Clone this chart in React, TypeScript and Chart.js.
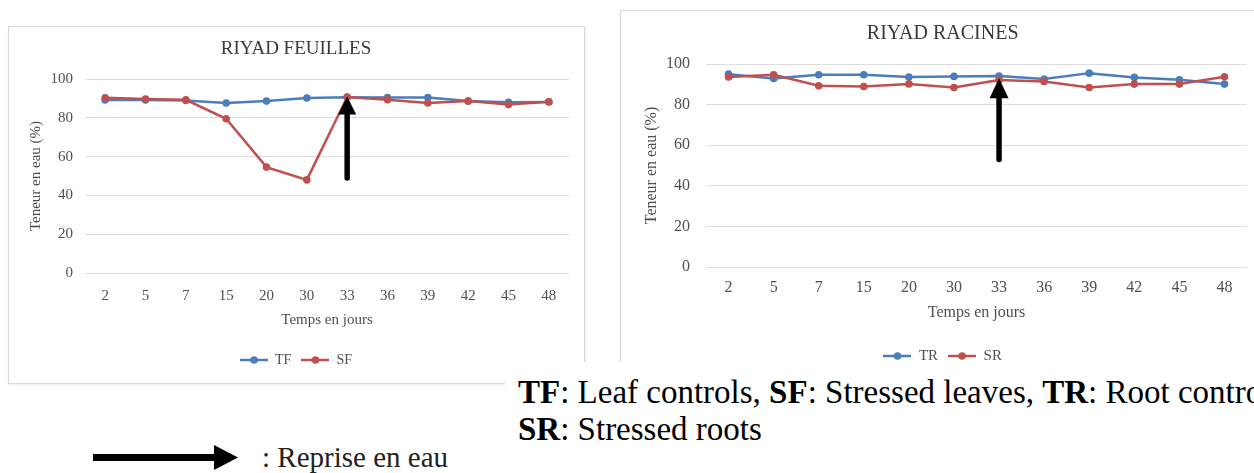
import React, { useEffect, useRef } from "react";
import { Chart, registerables } from "chart.js";

Chart.register(...registerables);

// ---------- data ----------
const DAYS = ["2", "5", "7", "15", "20", "30", "33", "36", "39", "42", "45", "48"];
const TF = [89.2, 89.2, 88.9, 87.6, 88.6, 90.2, 90.6, 90.4, 90.4, 88.6, 88.0, 88.2];
const SF = [90.3, 89.7, 89.3, 79.5, 54.6, 48.0, 90.7, 89.3, 87.6, 88.6, 86.8, 88.3];
const TR = [95.0, 92.9, 94.7, 94.7, 93.6, 93.9, 94.1, 92.6, 95.5, 93.4, 92.2, 90.1];
const SR = [93.6, 94.7, 89.3, 88.9, 90.2, 88.4, 92.1, 91.4, 88.4, 90.1, 90.1, 93.7];
const Y_TICKS = [0, 20, 40, 60, 80, 100];
const REWATER_DAY = "33";
const LEAF_ARROW = [49, 91];
const ROOT_ARROW = [53, 93];

const BLUE = "#4a7ebb";
const RED = "#c0504d";
const FONT = "'Liberation Serif', 'Times New Roman', serif";
const TEXT = "#4f4f4f";

function makeIcon(color: string) {
  const c = document.createElement("canvas");
  c.width = 28;
  c.height = 10;
  const g = c.getContext("2d")!;
  g.strokeStyle = color;
  g.lineWidth = 2.5;
  g.beginPath();
  g.moveTo(0, 5);
  g.lineTo(28, 5);
  g.stroke();
  g.fillStyle = color;
  g.beginPath();
  g.arc(14, 5, 3.8, 0, Math.PI * 2);
  g.fill();
  return c;
}

const arrowPlugin = {
  id: "rewater",
  afterDatasetsDraw(chart: any, _args: any, opts: any) {
    const { ctx, scales } = chart;
    const x = scales.x;
    const y = scales.y;
    const px = x.getPixelForValue(DAYS.indexOf(opts.day));
    const yTail = y.getPixelForValue(opts.from);
    const yTip = y.getPixelForValue(opts.to);
    ctx.save();
    ctx.fillStyle = "#000";
    ctx.strokeStyle = "#000";
    ctx.lineWidth = opts.shaft;
    ctx.lineCap = "round";
    ctx.beginPath();
    ctx.moveTo(px, yTail);
    ctx.lineTo(px, yTip + opts.headLen - 1);
    ctx.stroke();
    ctx.beginPath();
    ctx.moveTo(px, yTip);
    ctx.lineTo(px - opts.headW / 2, yTip + opts.headLen);
    ctx.lineTo(px + opts.headW / 2, yTip + opts.headLen);
    ctx.closePath();
    ctx.fill();
    ctx.restore();
  },
};

type PanelProps = {
  title: string;
  names: [string, string];
  control: number[];
  stressed: number[];
  arrow: number[];
  width: number;
  height: number;
  left: number;
  top: number;
  s: any;
};

function ChartPanel(p: PanelProps) {
  const ref = useRef<HTMLCanvasElement>(null);
  useEffect(() => {
    const s = p.s;
    const icons = [makeIcon(BLUE), makeIcon(RED)];
    const chart = new Chart(ref.current!, {
      type: "line",
      data: {
        labels: DAYS,
        datasets: [
          {
            label: p.names[0],
            data: p.control,
            borderColor: BLUE,
            backgroundColor: BLUE,
            borderWidth: 2.5,
            pointRadius: 3.8,
            pointBackgroundColor: BLUE,
            pointBorderWidth: 0,
            tension: 0,
            order: 1,
          },
          {
            label: p.names[1],
            data: p.stressed,
            borderColor: RED,
            backgroundColor: RED,
            borderWidth: 2.5,
            pointRadius: 3.8,
            pointBackgroundColor: RED,
            pointBorderWidth: 0,
            tension: 0,
            order: 0,
          },
        ],
      },
      options: {
        responsive: false,
        animation: false,
        layout: { padding: { left: s.pl, right: s.pr, top: s.pt, bottom: s.pb } },
        plugins: {
          tooltip: { enabled: false },
          title: {
            display: true,
            text: p.title,
            color: "#3a3a3a",
            font: { family: FONT, size: s.titleSize, weight: "normal" },
            padding: { top: s.titlePadTop, bottom: s.titlePadBottom },
          },
          legend: {
            position: "bottom",
            labels: {
              usePointStyle: true,
              pointStyleWidth: 28,
              color: TEXT,
              padding: 10,
              font: { family: FONT, size: s.legendSize },
              sort: (a: any, b: any) => a.datasetIndex - b.datasetIndex,
              generateLabels: (chart: any) => {
                const items = (Chart.defaults.plugins.legend.labels as any).generateLabels(chart);
                items.forEach((it: any) => {
                  it.pointStyle = icons[it.datasetIndex];
                });
                return items;
              },
            },
          },
          rewater: {
            day: REWATER_DAY,
            from: p.arrow[0],
            to: p.arrow[1],
            shaft: 5.5,
            headW: s.headW,
            headLen: s.headLen,
          },
        } as any,
        scales: {
          x: {
            offset: true,
            grid: { display: false, drawTicks: false },
            border: { display: false },
            ticks: {
              color: TEXT,
              padding: s.xTickPad,
              font: { family: FONT, size: s.tickSize },
              maxRotation: 0,
              autoSkip: false,
            },
            title: {
              display: true,
              text: "Temps en jours",
              color: TEXT,
              font: { family: FONT, size: s.axisTitleSize },
              padding: { top: 4, bottom: s.xTitlePadBottom },
            },
            afterFit: (sc: any) => {
              sc.height = s.xHeight;
            },
          },
          y: {
            min: 0,
            max: 100,
            grid: { color: "#dedede", lineWidth: 1, drawTicks: false },
            border: { display: false },
            ticks: {
              color: TEXT,
              padding: s.yTickPad,
              font: { family: FONT, size: s.tickSize },
            },
            afterBuildTicks: (sc: any) => {
              sc.ticks = Y_TICKS.map((v) => ({ value: v }));
            },
            title: {
              display: true,
              text: "Teneur en eau (%)",
              color: TEXT,
              font: { family: FONT, size: s.axisTitleSize },
              padding: { top: 4, bottom: 4 },
            },
            afterFit: (sc: any) => {
              sc.width = s.yWidth;
            },
          },
        },
      },
      plugins: [arrowPlugin as any],
    });
    return () => chart.destroy();
  }, []);
  return (
    <>
      <div
        style={{
          position: "absolute",
          left: p.left,
          top: p.top,
          width: p.width,
          height: p.height,
          boxSizing: "border-box",
          border: "1px solid #d9d9d9",
          boxShadow: "1px 1px 3px rgba(0,0,0,0.08)",
          background: "#fff",
        }}
      />
      <canvas
        ref={ref}
        width={p.width}
        height={p.height}
        style={{ position: "absolute", left: p.left, top: p.top, width: p.width, height: p.height }}
      />
    </>
  );
}

const LEFT_STYLE = {
  pl: 15, pr: 16, pt: 5, pb: 7,
  titleSize: 19, titlePadTop: 6.6, titlePadBottom: 18.6,
  legendSize: 14, tickSize: 15, axisTitleSize: 15,
  xTickPad: 14, xTitlePadBottom: 14, xHeight: 70,
  yTickPad: 12, yWidth: 62,
  headW: 18, headLen: 18,
};

const RIGHT_STYLE = {
  pl: 18.4, pr: 15, pt: 6.2, pb: 11.5,
  titleSize: 20, titlePadTop: 5.8, titlePadBottom: 18,
  legendSize: 15, tickSize: 16, axisTitleSize: 16,
  xTickPad: 11.4, xTitlePadBottom: 15.9, xHeight: 71.5,
  yTickPad: 16, yWidth: 67.6,
  headW: 19, headLen: 20,
};

export default function App() {
  return (
    <div
      style={{
        position: "absolute",
        left: 0,
        top: 0,
        width: 1254,
        height: 473,
        overflow: "hidden",
        background: "#fff",
        fontFamily: FONT,
      }}
    >
      <ChartPanel
        title="RIYAD FEUILLES"
        names={["TF", "SF"]}
        control={TF}
        stressed={SF}
        arrow={LEAF_ARROW}
        left={8}
        top={26}
        width={577}
        height={358}
        s={LEFT_STYLE}
      />
      <ChartPanel
        title="RIYAD RACINES"
        names={["TR", "SR"]}
        control={TR}
        stressed={SR}
        arrow={ROOT_ARROW}
        left={620}
        top={10}
        width={642}
        height={375}
        s={RIGHT_STYLE}
      />
      <div style={{ position: "absolute", left: 505, top: 362, right: 0, bottom: 0, background: "#fff" }} />
      <div
        style={{
          position: "absolute",
          left: 518,
          top: 374,
          fontSize: 33,
          lineHeight: "37px",
          whiteSpace: "nowrap",
          color: "#000",
        }}
      >
        <div>
          <b>TF</b>: Leaf controls, <b>SF</b>: Stressed leaves, <b>TR</b>: Root controls,
        </div>
        <div>
          <b>SR</b>: Stressed roots
        </div>
      </div>
      <svg
        style={{ position: "absolute", left: 90, top: 442 }}
        width={152}
        height={32}
        viewBox="0 0 152 32"
      >
        <rect x={3} y={12} width={122} height={7} fill="#000" />
        <polygon points="124,3 148,15.5 124,28" fill="#000" />
      </svg>
      <div
        style={{
          position: "absolute",
          left: 262,
          top: 440,
          fontSize: 29,
          lineHeight: "34px",
          whiteSpace: "nowrap",
          color: "#222",
        }}
      >
        : Reprise en eau
      </div>
    </div>
  );
}
